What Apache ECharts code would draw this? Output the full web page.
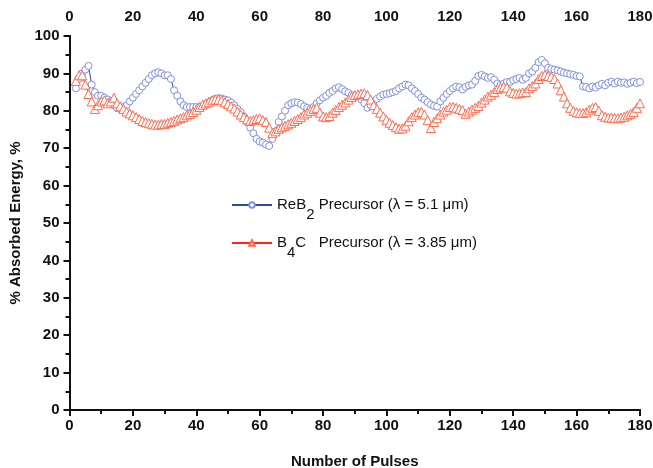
<!DOCTYPE html>
<html><head><meta charset="utf-8">
<script src="https://cdn.jsdelivr.net/npm/echarts@6/dist/echarts.min.js"></script>
<style>html,body{margin:0;padding:0;background:#fff}#c{width:653px;height:468px}</style>
</head><body><div id="c"></div>
<script>
var pulseStart = 2;
var reb2Values = [86,88.5,90,91,92,87,85,84,84,83.5,83,82.5,81.5,80.7,80.5,81,81.5,82.5,83.5,84.5,85.5,86.5,87.5,88.5,89.5,90,90.3,90,89.5,89.5,88.5,85.5,84,82.5,81.5,81,81,81,81,81,81.3,81.8,82.3,82.8,83.2,83.4,83.3,83,82.8,82.2,81.5,80.5,79.7,78.5,77,75.5,74,72.5,71.8,71.5,71,70.6,72.5,74.5,77,78.5,80,81.5,82,82.3,82.2,81.8,81.2,80.8,80.5,81,82,82.8,83.5,84,84.8,85.3,86,86.3,85.8,85.2,84.8,84.2,83.8,84,83,82,80.8,81.5,82.5,83.2,83.8,84.3,84.5,84.7,85,85.3,86,86.5,87,86.8,86,85.3,84.5,83.5,83,82.3,81.7,81.3,81.1,82.5,83.5,84.5,85.3,86,86.5,86.3,85.7,86.4,86.8,87,88,89.3,89.6,89.2,88.8,89,88.3,87.3,86.9,87.3,87.7,87.7,88.2,88.5,88.8,88.3,88.8,90,90.5,91.5,93,93.6,92.7,91.5,91.2,91,90.8,90.5,90.2,90,89.8,89.6,89.3,89.2,86.5,86.4,86,86.5,86.2,86.8,87.2,86.8,87.5,87.8,87.3,87.8,87.5,87.6,87.2,87.5,87.8,87.4,87.7];
var b4cValues = [88,89.5,89.5,87,84.5,82.5,80.5,81.5,82.5,82.8,82,82.5,83.5,82,81.2,80.5,79.8,79.3,78.8,78.3,77.8,77.3,77,76.7,76.5,76.3,76.3,76.5,76.5,76.8,77,77.3,77.7,78,78.3,78.8,79.2,79.7,80.3,81,81.6,82,82.4,82.8,83,83,82.8,82.3,81.8,81.2,80.6,79.8,79,78.3,77.7,77.3,77.5,77.8,78,77.5,77,75.5,74,74.5,75.2,75.6,76,76.4,76.8,77.3,77.8,78.3,79,79.5,80,80.5,80.8,79.5,78.5,78.3,78.6,79.5,80.2,81,81.6,82.2,83,83.7,84.2,84.4,84.6,84.7,84.2,83,81.5,80.5,79.5,78.5,77.6,76.8,76.2,75.6,75.2,75.3,76,77.2,78.3,79,79.6,79.7,79,77.5,75.4,77,78,79,79.8,80.3,81,81,80.8,80.5,80.2,79.2,79.8,80.3,80.8,81.3,82.2,83,83.8,84.3,85,85.8,86.2,86.4,86.2,85.2,84.8,84.6,84.7,84.9,85,86,86.6,87.3,88.5,89.3,89.6,89.3,89.1,88.5,87.3,85.5,83.8,82,80.8,80,79.6,79.4,79.4,79.6,80.3,80.8,81,80,78.8,78.4,78.2,78.2,78.1,78,78.2,78.4,78.8,79.2,79.7,80.8,82];
var xTicks = [0,20,40,60,80,100,120,140,160,180];
var yTicks = [0,10,20,30,40,50,60,70,80,90,100];
var seriesNames = ['ReB2', 'B4C'];

function pairs(vals){ return vals.map(function(v,i){ return [pulseStart+i, v]; }); }

var FONT = 'Liberation Sans, Arial, sans-serif';
var chart = echarts.init(document.getElementById('c'));
var lbl = {fontFamily: FONT, fontWeight: 'bold', fontSize: 15, color: '#111'};
var axLine = {lineStyle:{color:'#111', width:2}};
var tick = function(inside){ return {inside: inside, length: 6, lineStyle:{color:'#111', width:2}}; };
var minor = {show:true, splitNumber:2, length:4, lineStyle:{color:'#111', width:2}};

chart.setOption({
  backgroundColor: '#fff',
  animation: false,
  grid: {left: 69.5, right: 13, top: 36, bottom: 58, outerBoundsMode: 'none', containLabel: false},
  legend: {
    orient: 'vertical', left: 226, top: 186, itemGap: 7, itemWidth: 40, itemHeight: 7,
    data: seriesNames,
    formatter: function(n){
      if (n === 'ReB2') return '{t|ReB}{s|2}{t| Precursor (λ = 5.1 μm)}';
      return '{t|B}{s|4}{t|C   Precursor (λ = 3.85 μm)}';
    },
    textStyle: {
      fontFamily: FONT, fontSize: 15, color: '#111',
      rich: {
        t: {fontFamily: FONT, fontSize: 15, color: '#111', lineHeight: 34, verticalAlign:'middle'},
        s: {fontFamily: FONT, fontSize: 15, color: '#111', lineHeight: 18, verticalAlign:'bottom', padding:[16,0,0,0]}
      }
    }
  },
  xAxis: [
    {type:'value', min:0, max:180, interval:20, position:'bottom',
     name:'Number of Pulses', nameLocation:'middle', nameGap:44,
     nameTextStyle:{fontFamily:FONT, fontWeight:'bold', fontSize:15, color:'#111'},
     axisLine: axLine, axisTick: tick(false), minorTick: minor,
     axisLabel: Object.assign({margin: 8}, lbl), splitLine:{show:false}},
    {type:'value', min:0, max:180, interval:20, position:'top',
     axisLine: axLine, axisTick: tick(true), minorTick: minor,
     axisLabel: Object.assign({margin: 12}, lbl), splitLine:{show:false}}
  ],
  yAxis: [
    {type:'value', min:0, max:100, interval:10, position:'left',
     name:'% Absorbed Energy, %', nameLocation:'middle', nameGap:43,
     nameTextStyle:{fontFamily:FONT, fontWeight:'bold', fontSize:15, color:'#111'},
     axisLine: axLine, axisTick: tick(false), minorTick: minor,
     axisLabel: Object.assign({margin: 10}, lbl), splitLine:{show:false}},
    {type:'value', min:0, max:100, interval:10, position:'right',
     axisLine: axLine, axisTick: tick(true), minorTick: minor,
     axisLabel: {show:false}, splitLine:{show:false}}
  ],
  series: [
    {name:'ReB2', type:'line', data: pairs(reb2Values), symbol:'circle', symbolSize:7,
     lineStyle:{color:'#2c47a8', width:1},
     itemStyle:{color:'#ffffff', borderColor:'#8092dc', borderWidth:1},
     z: 3},
    {name:'B4C', type:'line', data: pairs(b4cValues), symbol:'triangle', symbolSize:9,
     lineStyle:{color:'#ff2414', width:1},
     itemStyle:{color:'#ffffff', borderColor:'#ff6a4e', borderWidth:1},
     z: 4}
  ]
});
</script></body></html>
